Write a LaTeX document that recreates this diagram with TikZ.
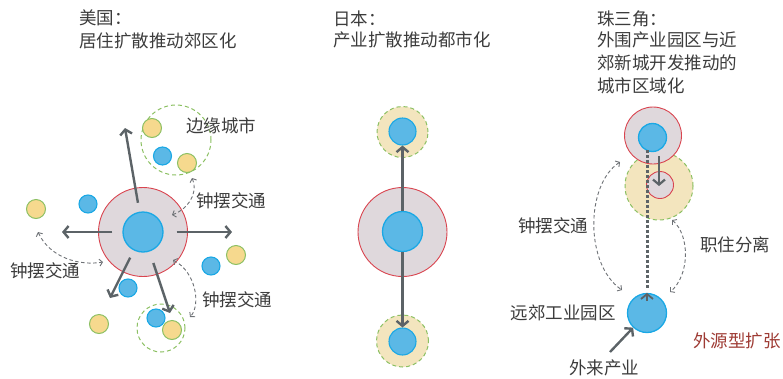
\documentclass[tikz,border=0pt]{standalone}
\usepackage{fontspec}
\newfontfamily\cjk{Noto Sans CJK SC}
\usetikzlibrary{arrows.meta}
\definecolor{ringred}{HTML}{D9444F}
\definecolor{ringfill}{HTML}{DFD8DC}
\definecolor{coreblue}{HTML}{1AA8E5}
\definecolor{bluefill}{HTML}{5BB8E6}
\definecolor{satgreen}{HTML}{8CC063}
\definecolor{satyellow}{HTML}{F6D98E}
\definecolor{zonefill}{HTML}{F3E5BE}
\definecolor{arrowgray}{HTML}{5C6367}
\definecolor{dashgray}{HTML}{6E7276}
\definecolor{textgray}{HTML}{3C3C3C}
\definecolor{redtext}{HTML}{9E3B34}
\tikzset{
  cityring/.style={circle, inner sep=0pt, draw=ringred, fill=ringfill, line width=0.9pt},
  core/.style={circle, inner sep=0pt, draw=coreblue, fill=bluefill, line width=1.3pt},
  ysat/.style={circle, inner sep=0pt, draw=satgreen, fill=satyellow, line width=1pt, minimum size=19pt},
  bsat/.style={circle, inner sep=0pt, draw=coreblue, fill=bluefill, line width=1.1pt, minimum size=18pt},
  zone/.style={circle, inner sep=0pt, draw=satgreen, dash pattern=on 4pt off 3pt, line width=1pt},
  bigarrow/.style={draw=arrowgray, line width=2.4pt, -{Straight Barb[length=5pt,width=12pt]}},
  swing/.style={draw=dashgray, dash pattern=on 3.5pt off 2.5pt, line width=0.9pt,
     {Straight Barb[length=3pt,width=7pt]}-{Straight Barb[length=3pt,width=7pt]}},
  lbl/.style={text=textgray, font=\cjk\fontsize{17.5}{21}\selectfont, inner sep=0pt},
}
\begin{document}
\begin{tikzpicture}[x=1pt,y=-1pt]
\useasboundingbox (0,0) rectangle (783,378);
% ---------------- USA ----------------
\node[lbl, anchor=west] (ustitleA) at (79,18) {美国：};
\node[lbl, anchor=west] (ustitleB) at (79,41) {居住扩散推动郊区化};
\node[zone, minimum size=70pt] (usedge) at (176,140) {};
\node[ysat] (usy1) at (152,128) {};
\node[bsat] (usb1) at (162.5,156) {};
\node[ysat] (usy2) at (187,163) {};
\node[bsat] (usb2) at (88,204) {};
\node[ysat] (usy3) at (36,209) {};
\node[bsat] (usb3) at (128,288) {};
\node[bsat] (usb4) at (211,266) {};
\node[ysat] (usy4) at (236,255) {};
\node[ysat] (usy5) at (99,324) {};
\node[zone, minimum size=48pt] (uslowzone) at (161,328) {};
\node[bsat] (usb5) at (156,318) {};
\node[ysat] (usy6) at (172,330) {};
\node[cityring, minimum size=89pt] (usring) at (143,232) {};
\node[core, minimum size=40pt] (uscore) at (143,232) {};
\coordinate (usN) at (125,128);
\coordinate (usW) at (62,232);
\coordinate (usE) at (232,232);
\coordinate (usSW) at (110,298);
\coordinate (usSE) at (170,313);
\draw[bigarrow, shorten <=9pt] (uscore) -- (usN);
\draw[bigarrow, shorten <=10pt] (uscore) -- (usW);
\draw[bigarrow, shorten <=13pt] (uscore) -- (usE);
\draw[bigarrow, shorten <=8pt] (uscore) -- (usSW);
\draw[bigarrow, shorten <=12pt] (uscore) -- (usSE);
\coordinate (sw1a) at (192,178);
\coordinate (sw1b) at (172,215);
\draw[swing] (sw1a) .. controls (199,195) and (186,210) .. (sw1b);
\coordinate (sw2a) at (38,232);
\coordinate (sw2b) at (103,262);
\draw[swing] (sw2a) .. controls (50,258) and (80,266) .. (sw2b);
\coordinate (sw3a) at (173,260);
\coordinate (sw3b) at (190,317);
\draw[swing] (sw3a) .. controls (196,272) and (201,305) .. (sw3b);
\node[lbl] (edgelbl) at (221,126) {边缘城市};
\node[lbl] (swlbl1) at (231,201) {钟摆交通};
\node[lbl] (swlbl2) at (45,271) {钟摆交通};
\node[lbl] (swlbl3) at (237,300) {钟摆交通};
% ---------------- Japan ----------------
\node[lbl, anchor=west] (jptitleA) at (333,18.5) {日本：};
\node[lbl, anchor=west] (jptitleB) at (333,40) {产业扩散推动都市化};
\node[zone, fill=zonefill, minimum size=51pt] (jptopzone) at (402.5,132) {};
\node[bsat, minimum size=27pt] (jptopblue) at (402.5,131.5) {};
\node[zone, fill=zonefill, minimum size=52pt] (jpbotzone) at (402.5,341) {};
\node[bsat, minimum size=27pt] (jpbotblue) at (402.5,341.5) {};
\node[cityring, minimum size=89pt] (jpring) at (402.5,232) {};
\node[core, minimum size=40pt] (jpcore) at (402.5,231.5) {};
\draw[bigarrow] (jpcore.north) -- (jptopblue.south);
\draw[bigarrow] (jpcore.south) -- (jpbotblue.north);
% ---------------- Pearl River Delta ----------------
\node[lbl, anchor=west] (prdtitleA) at (597,18.5) {珠三角：};
\node[lbl, anchor=west] (prdtitleB) at (597,40) {外围产业园区与近};
\node[lbl, anchor=west] (prdtitleC) at (597,63) {郊新城开发推动的};
\node[lbl, anchor=west] (prdtitleD) at (597,85.5) {城市区域化};
\node[zone, fill=zonefill, minimum size=68pt] (prdzone) at (659,186) {};
\node[cityring, minimum size=57pt] (prdring) at (653,135.5) {};
\node[core, minimum size=28pt] (prdcore) at (652.5,137.5) {};
\node[cityring, minimum size=27pt] (prdsub) at (660,185) {};
\node[core, minimum size=39pt] (prdpark) at (647,313) {};
\coordinate (dotstart) at (647,150);
\coordinate (arrstart) at (659,156);
\coordinate (arrend) at (659,186);
\draw[draw=arrowgray, line width=2.2pt, -{Straight Barb[length=5pt,width=12pt]}] (arrstart) -- (arrend);
\draw[draw=arrowgray, line width=3pt, dash pattern=on 2.5pt off 2.5pt] (dotstart) -- ([yshift=3pt]prdpark.north);
\draw[draw=arrowgray, line width=1.8pt, -{Straight Barb[length=5pt,width=12pt]}] ([yshift=-8pt]prdpark.north) -- ([yshift=0pt]prdpark.north);
\coordinate (sw4a) at (620,162);
\coordinate (sw4b) at (622,290);
\draw[swing] (sw4a) .. controls (585,185) and (585,265) .. (sw4b);
\coordinate (sw5a) at (672,220);
\coordinate (sw5b) at (670,292);
\draw[swing] (sw5a) .. controls (690,235) and (690,275) .. (sw5b);
\node[lbl] (prdsw) at (553,226) {钟摆交通};
\node[lbl] (prdsep) at (735,245) {职住分离};
\node[lbl] (parklbl) at (563,313) {远郊工业园区};
\node[lbl, text=redtext] (extlbl) at (737,341) {外源型扩张};
\node[lbl] (inflowlbl) at (604,368) {外来产业};
\coordinate (inflowstart) at (610,352);
\draw[bigarrow] (inflowstart) -- (prdpark);
\end{tikzpicture}
\end{document}
